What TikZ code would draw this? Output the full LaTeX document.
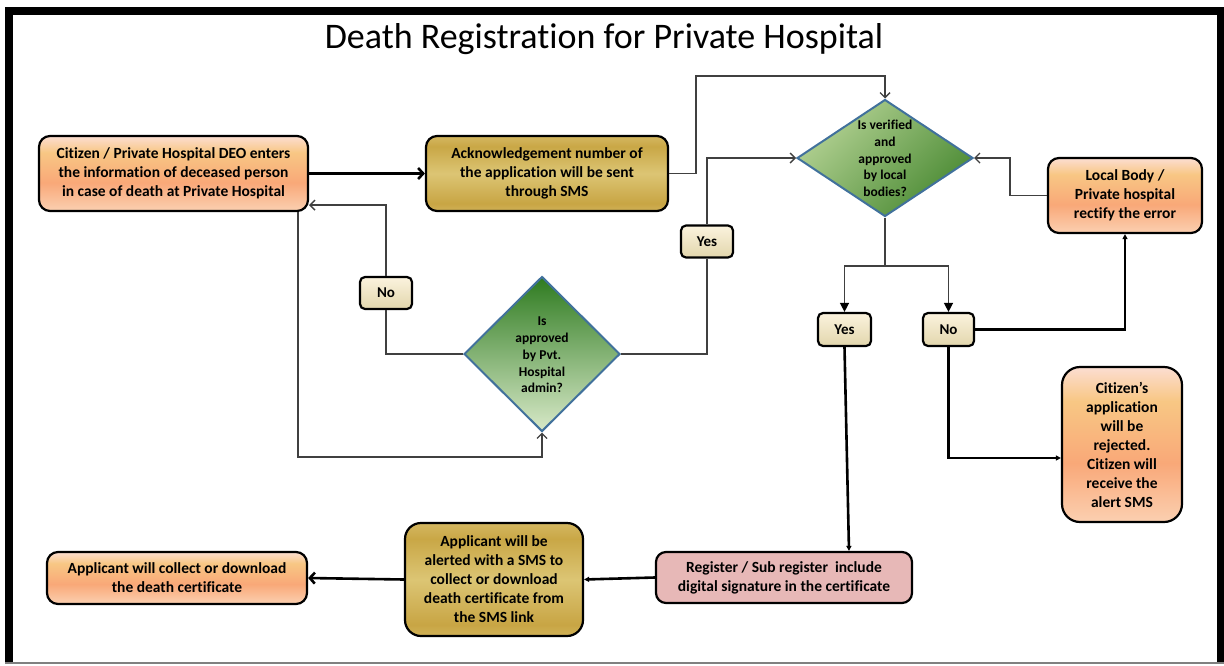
\documentclass[tikz,border=0pt]{standalone}
\usepackage{fontspec}
\setmainfont{Carlito}[RawFeature={-liga;-dlig;-calt}]
\usetikzlibrary{arrows.meta,shapes.geometric,calc}
\definecolor{or1}{HTML}{FDECEF}
\definecolor{or2}{HTML}{FBD2B4}
\definecolor{or3}{HTML}{F9A878}
\definecolor{or4}{HTML}{F8C784}
\definecolor{or5}{HTML}{FDE6EE}
\definecolor{or6}{HTML}{FCEFE6}
\definecolor{g1}{HTML}{D9C067}
\definecolor{g2}{HTML}{E6D28A}
\definecolor{g3}{HTML}{C8A544}
\definecolor{g4}{HTML}{DCC574}
\definecolor{g5}{HTML}{C9A746}
\definecolor{g6}{HTML}{E8D693}
\definecolor{g7}{HTML}{DCC57A}
\definecolor{crT}{HTML}{FBF3DE}
\definecolor{crB}{HTML}{E2D6AC}
\definecolor{dmdB}{HTML}{41719C}
\definecolor{gL1}{HTML}{B4D294}
\definecolor{gD1}{HTML}{4A8A33}
\definecolor{gD2}{HTML}{2E7B20}
\definecolor{gL2}{HTML}{D8E9C8}
\definecolor{regF}{HTML}{E7B8B7}
\definecolor{lineG}{HTML}{404040}
\pgfdeclareverticalshading{orangesh}{100bp}{color(0bp)=(or1); color(10bp)=(or1); color(24bp)=(or2); color(44bp)=(or3); color(64bp)=(or4); color(79bp)=(or5); color(100bp)=(or6)}
\pgfdeclareverticalshading{goldsh}{100bp}{color(0bp)=(g1); color(12bp)=(g2); color(30bp)=(g3); color(50bp)=(g4); color(68bp)=(g5); color(88bp)=(g6); color(100bp)=(g7)}
\begin{document}
\begin{tikzpicture}[x=1pt,y=-1pt,
  basebox/.style={draw=black, line width=2.2pt, rounded corners=11pt, align=center, inner sep=0pt, font=\bfseries\fontsize{15.5}{19}\selectfont},
  obox/.style={basebox, shading=orangesh},
  gbox/.style={basebox, shading=goldsh},
  rbox/.style={basebox, fill=regF},
  lbl/.style={basebox, rounded corners=5pt, top color=crT, bottom color=crB, minimum width=52pt, minimum height=32pt, font=\bfseries\fontsize{15}{18}\selectfont},
  dmd/.style={diamond, draw=dmdB, line width=2pt, inner sep=0pt},
  dtxt/.style={align=center, font=\bfseries\fontsize{13.5}{16.8}\selectfont, inner sep=0pt},
  conn/.style={draw=lineG, line width=1.4pt},
  oarr/.style={conn, -{Straight Barb[length=5pt,width=10pt]}},
  farr/.style={conn, -{Triangle[length=9pt,width=9pt,color=black]}},
  tk/.style={draw=black, line width=2.6pt},
  tkarr/.style={tk, -{Triangle[length=5pt,width=5pt]}},
  tkbarb/.style={tk, -{Straight Barb[length=5pt,width=11pt]}},
]
\useasboundingbox (0,0) rectangle (1224,665);
% frame
\fill[black] (5,7) rectangle (1224,15);
\fill[black] (5,7) rectangle (13,663);
\fill[black] (1217,7) rectangle (1224,663);
\draw[gray, line width=1.5pt] (5,663) -- (1224,663);

\node[font=\fontsize{36}{40}\selectfont, anchor=base] (title) at (604,48) {Death Registrat\kern0pt ion for Private Hospital};

% main boxes
\node[obox, minimum width=269pt, minimum height=75pt] (cit) at (173.5,173.5)
  {Citizen / Private Hospital DEO enters\\the information of deceased person\\in case of death at Private Hospital};
\node[gbox, minimum width=242pt, minimum height=75pt] (ack) at (547,173.5)
  {Acknowledgement number of\\the application will be sent\\through SMS};
\node[dmd, top color=gL1, bottom color=gD1, shading angle=45, minimum width=176pt, minimum height=117pt] (d1) at (885,158) {};
\node[dtxt] (d1t) at (885,158.5) {Is verified\\and\\approved\\by local\\bodies?};
\node[obox, minimum width=154pt, minimum height=75pt] (loc) at (1125,195.5)
  {Local Body /\\Private hospital\\rectify the error};
\node[dmd, top color=gD2, bottom color=gL2, minimum width=156pt, minimum height=155pt] (d2) at (542,354) {};
\node[dtxt] (d2t) at (542,355) {Is\\approved\\by Pvt.\\Hospital\\admin?};
\node[lbl, minimum width=53pt, minimum height=33pt] (yes2) at (844.5,329.5) {Yes};
\node[lbl, minimum width=51pt, minimum height=33pt] (no2) at (948.5,329.5) {No};
\node[obox, rounded corners=18pt, minimum width=120pt, minimum height=155pt] (rej) at (1122,444.5)
  {Citizen’s\\application\\will be\\rejected.\\Citizen will\\receive the\\alert SMS};
\node[rbox, rounded corners=10pt, minimum width=256pt, minimum height=51pt] (reg) at (784,577.5)
  {Register / Sub register~ include\\digital signature in the certificate};
\node[gbox, rounded corners=16pt, minimum width=178pt, minimum height=113pt] (alert) at (494,579.5)
  {Applicant will be\\alerted with a SMS to\\collect or download\\death certificate from\\the SMS link};
\node[obox, rounded corners=11pt, minimum width=260pt, minimum height=52pt] (coll) at (177,578)
  {Applicant will collect or download\\the death certificate};
\node[lbl] (yes1) at (707,241.5) {Yes};
\node[lbl] (no1) at (386,293) {No};

% connectors
\draw[tkbarb] (cit.east) -- (ack.west);
\coordinate (c1) at (696,76);
\draw[oarr] (ack.east) -| (c1) -| (d1.north);
\draw[conn] (d2.east) -| (yes1.south);
\draw[oarr] (yes1.north) |- (d1.west);
\draw[conn] (d2.west) -| (no1.south);
\draw[oarr] (no1.north) |- ([yshift=7pt]cit.south east);
\coordinate (c3) at (542,457);
\draw[oarr] ([xshift=-11pt]cit.south east) |- (c3) -- (d2.south);
\draw[oarr] (loc.west) -- ++(-37,0) |- (d1.east);
\coordinate (c4) at (885,266);
\draw[conn] (d1.south) -- (c4);
\draw[farr] (c4) -| (yes2.north);
\draw[farr] (c4) -| (no2.north);
\draw[tkarr] (no2.east) -| (loc.south);
\draw[tkarr] (no2.south) |- ([yshift=-13.5pt]rej.west);
\draw[tkarr] (yes2.south) -- ([xshift=65pt]reg.north);
\draw[tkarr] (reg.west) -- (alert.east);
\draw[tkbarb] (alert.west) -- (coll.east);
\end{tikzpicture}
\end{document}
